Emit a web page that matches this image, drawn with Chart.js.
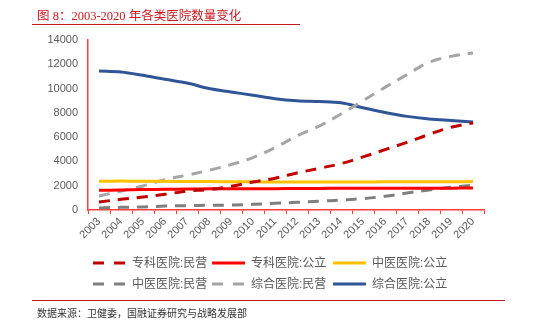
<!DOCTYPE html>
<html>
<head>
<meta charset="utf-8">
<script src="https://cdn.jsdelivr.net/npm/chart.js@4.4.1/dist/chart.umd.min.js"></script>
<style>
  body { margin: 0; background: #fff; }
  #wrap { position: relative; width: 540px; height: 331px; overflow: hidden; }
  #title { position: absolute; left: 37px; top: 5px; font-size: 12.5px; font-family: "Liberation Serif", "Noto Sans CJK SC", serif; color: #c8161d; white-space: nowrap; }
  #source { position: absolute; left: 37px; top: 305px; font-size: 10px; font-family: "Liberation Serif", "Noto Sans CJK SC", serif; color: #333; white-space: nowrap; }
  .rule { position: absolute; left: 32px; height: 0; border-top: 1.5px solid #c8161d; }
  canvas { position: absolute; left: 0; top: 0; }
</style>
</head>
<body>
<div id="wrap">
  <canvas id="hospitalChart" width="540" height="331"></canvas>
  <div id="title">图 8：2003-2020 年各类医院数量变化</div>
  <div class="rule" style="top:24px;width:268px;"></div>
  <div class="rule" style="top:300px;width:473px;"></div>
  <div id="source">数据来源：卫健委，国融证券研究与战略发展部</div>
</div>
<script>
var years = ['2003', '2004', '2005', '2006', '2007', '2008', '2009', '2010', '2011',
             '2012', '2013', '2014', '2015', '2016', '2017', '2018', '2019', '2020'];

var yTicks = [0, 2000, 4000, 6000, 8000, 10000, 12000, 14000];

// 专科医院
var specialPrivate = [660, 880, 1070, 1290, 1560, 1680, 1950, 2300, 2620, 3050, 3430, 3820, 4370, 4970, 5570, 6230, 6810, 7170];
var specialPublic = [1620, 1650, 1680, 1700, 1720, 1740, 1750, 1760, 1760, 1770, 1780, 1790, 1800, 1800, 1790, 1790, 1800, 1810];

// 中医医院
var tcmPublic = [2370, 2380, 2370, 2360, 2350, 2340, 2330, 2320, 2310, 2310, 2300, 2300, 2310, 2320, 2320, 2330, 2330, 2340];
var tcmPrivate = [170, 220, 250, 330, 360, 390, 400, 470, 550, 630, 720, 820, 940, 1130, 1400, 1650, 1870, 2030];

// 综合医院
var generalPrivate = [1150, 1560, 1980, 2500, 2870, 3270, 3740, 4320, 5130, 6110, 6900, 7900, 9000, 10100, 11150, 12170, 12650, 12930];
var generalPublic = [11450, 11370, 11090, 10760, 10460, 10000, 9720, 9450, 9170, 9000, 8930, 8830, 8420, 8030, 7710, 7500, 7370, 7250];

var fontFamily = '"Liberation Sans", "Noto Sans CJK SC", sans-serif';
var axisRed = '#ff3b3b';

var series = (label, data, color, dashed) => ({
    label: label,
    data: data,
    borderColor: color,
    backgroundColor: color,
    borderWidth: 3,
    borderDash: dashed ? [11, 8] : [],
    borderCapStyle: 'butt',
    pointRadius: 0,
    tension: 0.35,
    fill: false
});

// legend drawn as two rows of three, same order as the datasets
var gridLegend = {
    id: 'gridLegend',
    afterDraw: function (chart) {
        var ctx = chart.ctx;
        var cols = [93, 212, 333];
        var rows = [263, 284];
        chart.data.datasets.forEach(function (ds, i) {
            var x = cols[i % 3];
            var y = rows[Math.floor(i / 3)];
            ctx.save();
            ctx.strokeStyle = ds.borderColor;
            ctx.lineWidth = 3;
            ctx.setLineDash(ds.borderDash.length ? [11, 10] : []);
            ctx.beginPath();
            ctx.moveTo(x, y);
            ctx.lineTo(x + 33, y);
            ctx.stroke();
            ctx.setLineDash([]);
            ctx.fillStyle = '#595959';
            ctx.font = '12px ' + fontFamily;
            ctx.textBaseline = 'middle';
            ctx.fillText(ds.label, x + 39, y + 1);
            ctx.restore();
        });
    }
};

var ctx = document.getElementById('hospitalChart').getContext('2d');

new Chart(ctx, {
    type: 'line',
    data: {
        labels: years,
        datasets: [
            series('专科医院:民营', specialPrivate, '#c00000', true),
            series('专科医院:公立', specialPublic, '#ff0000', false),
            series('中医医院:公立', tcmPublic, '#ffc000', false),
            series('中医医院:民营', tcmPrivate, '#7f7f7f', true),
            series('综合医院:民营', generalPrivate, '#a6a6a6', true),
            series('综合医院:公立', generalPublic, '#2f5597', false)
        ]
    },
    options: {
        responsive: false,
        animation: false,
        layout: {
            padding: { top: 40, right: 56, bottom: 71, left: 0 }
        },
        plugins: {
            legend: { display: false },
            tooltip: { enabled: false }
        },
        scales: {
            x: {
                offset: true,
                grid: {
                    offset: true,
                    drawOnChartArea: false,
                    drawTicks: true,
                    tickLength: 4,
                    color: axisRed
                },
                border: { color: axisRed, width: 1.5 },
                ticks: {
                    autoSkip: false,
                    maxRotation: 45,
                    minRotation: 45,
                    padding: 1,
                    color: '#595959',
                    font: { size: 11, family: fontFamily }
                },
                afterFit: function (scale) { scale.height = 50; }
            },
            y: {
                min: yTicks[0],
                max: yTicks[yTicks.length - 1],
                afterBuildTicks: function (scale) {
                    scale.ticks = yTicks.map(v => ({ value: v }));
                },
                grid: { display: false, drawTicks: false },
                border: { color: axisRed, width: 1.5 },
                ticks: {
                    padding: 10,
                    color: '#595959',
                    font: { size: 11, family: fontFamily },
                    callback: function (value) { return String(value); }
                },
                afterFit: function (scale) { scale.width = 88; }
            }
        }
    },
    plugins: [gridLegend]
});
</script>
</body>
</html>
